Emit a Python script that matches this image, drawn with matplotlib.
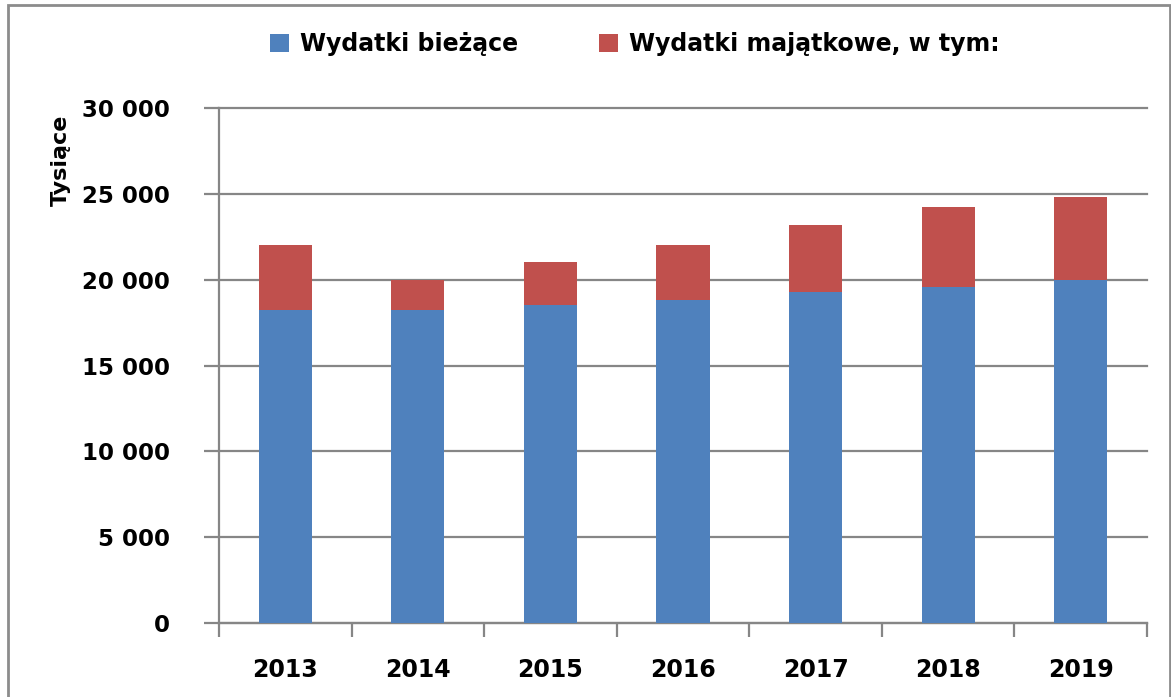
import matplotlib.pyplot as plt
from matplotlib.patches import Rectangle
from matplotlib.ticker import FuncFormatter, FixedLocator

years = ['2013', '2014', '2015', '2016', '2017', '2018', '2019']
biezace = [18250, 18250, 18500, 18800, 19250, 19550, 19950]
majatkowe = [3750, 1700, 2500, 3200, 3950, 4650, 4850]

labels = ['Wydatki bieżące', 'Wydatki majątkowe, w tym:']
colors = ['#4F81BD', '#C0504D']
grid_color = '#868686'

plt.rcParams['font.family'] = ['DejaVu Sans']
plt.rcParams['font.weight'] = 'bold'

fig = plt.figure(figsize=(11.71, 6.97), dpi=100)
ax = fig.add_axes([0.187, 0.1057, 0.7925, 0.7398])

x = list(range(len(years)))
b1 = ax.bar(x, biezace, width=0.4, color=colors[0], label=labels[0], zorder=3)
b2 = ax.bar(x, majatkowe, width=0.4, bottom=biezace, color=colors[1],
            label=labels[1], zorder=3)

ax.set_xlim(-0.5, len(years) - 0.5)
ax.set_ylim(0, 30000)
ax.set_yticks(range(0, 30001, 5000))
ax.yaxis.set_major_formatter(FuncFormatter(lambda v, p: f'{int(v):,}'.replace(',', ' ')))
ax.yaxis.grid(True, color=grid_color, linewidth=1.6, zorder=0)
for gl in ax.get_ygridlines():
    gl.set_clip_on(False)

# category boundaries as ticks, labels at centres
ax.xaxis.set_major_locator(FixedLocator([i - 0.5 for i in range(len(years) + 1)]))
ax.xaxis.set_minor_locator(FixedLocator(x))
ax.set_xticklabels([''] * (len(years) + 1))
ax.set_xticklabels(years, minor=True)
ax.tick_params(axis='x', which='major', length=10, width=1.6, color=grid_color, direction='out')
ax.tick_params(axis='x', which='minor', length=0, pad=25, labelsize=17)
ax.tick_params(axis='y', length=11, width=1.6, color=grid_color, pad=24, labelsize=16.5)

for s in ['top', 'right']:
    ax.spines[s].set_visible(False)
for s in ['left', 'bottom']:
    ax.spines[s].set_color(grid_color)
    ax.spines[s].set_linewidth(1.6)

fig.text(0.052, 0.77, 'Tysiące', rotation=90, ha='center', va='center',
         fontsize=16, fontweight='bold')

fig.legend(handles=[b1, b2], labels=labels, loc='center', ncol=2,
           bbox_to_anchor=(0.542, 0.937), frameon=False, fontsize=17,
           handlelength=0.8, handleheight=0.8, handletextpad=0.45,
           columnspacing=3.45)

fig.patches.append(Rectangle((8 / 1171, -0.01), 1162 / 1171, 1 - 5 / 697 + 0.01,
                             transform=fig.transFigure, fill=False,
                             edgecolor='#8c8c8c', linewidth=2))

fig.savefig('out.png', dpi=100)
